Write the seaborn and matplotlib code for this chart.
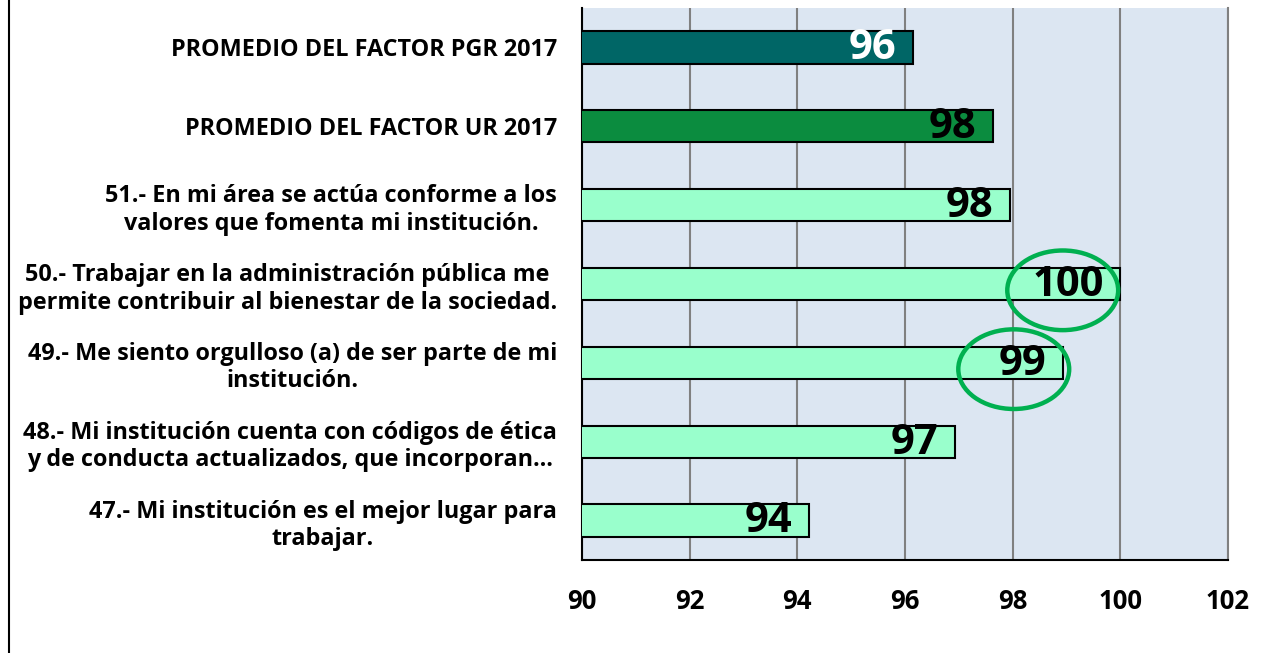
import matplotlib
matplotlib.use("Agg")
import matplotlib.pyplot as plt
import seaborn as sns
import pandas as pd
from matplotlib.patches import Ellipse
from matplotlib.lines import Line2D

# Data (top to bottom)
categories = [
    "PROMEDIO DEL FACTOR PGR 2017",
    "PROMEDIO DEL FACTOR UR 2017",
    "51.- En mi área se actúa conforme a los\nvalores que fomenta mi institución.",
    "50.- Trabajar en la administración pública me\npermite contribuir al bienestar de la sociedad.",
    "49.- Me siento orgulloso (a) de ser parte de mi\ninstitución.",
    "48.- Mi institución cuenta con códigos de ética\ny de conducta actualizados, que incorporan…",
    "47.- Mi institución es el mejor lugar para\ntrabajar.",
]
values = [96.15, 97.63, 97.95, 100.0, 98.94, 96.93, 94.21]
bar_colors = ["#006666", "#0B8C3F", "#99FFCC", "#99FFCC", "#99FFCC", "#99FFCC", "#99FFCC"]
label_colors = ["white", "black", "black", "black", "black", "black", "black"]
x_ticks = [90, 92, 94, 96, 98, 100, 102]

# highlighted items (circled in the original)
highlight_idx = [3, 4]
highlight_center_x = [98.93, 98.02]

df = pd.DataFrame({"pregunta": categories, "valor": values})

sns.set_style("white")
plt.rcParams["font.family"] = ["Open Sans", "DejaVu Sans"]
plt.rcParams["text.color"] = "black"
plt.rcParams["xtick.color"] = "black"
plt.rcParams["ytick.color"] = "black"

fig = plt.figure(figsize=(12.63, 6.53), dpi=100)
ax = fig.add_axes([582 / 1263, 1 - 560 / 653, (1228 - 582) / 1263, (560 - 8) / 653])
ax.set_facecolor("#DCE6F2")

sns.barplot(data=df, x="valor", y="pregunta", hue="pregunta", palette=bar_colors,
            saturation=1, legend=False, width=0.41, edgecolor="black", linewidth=1.5,
            ax=ax, zorder=3)

ax.set_xlim(90, 102)
ax.set_ylim(6.5, -0.5)
ax.set_xticks(x_ticks)
ax.set_xticklabels([str(t) for t in x_ticks], fontsize=18.5, fontweight="bold")
ax.set_yticks(range(len(categories)))
ax.set_yticklabels(categories, fontsize=16.8, fontweight="bold", multialignment="center",
                   linespacing=1.2)
ax.tick_params(axis="y", length=0, pad=18, labelcolor="black")
ax.tick_params(axis="x", length=0, pad=20, labelcolor="black")
ax.set_xlabel("")
ax.set_ylabel("")

ax.grid(axis="x", color="#808080", linewidth=1.5, zorder=0)
ax.set_axisbelow(True)
ax.spines["top"].set_visible(False)
ax.spines["right"].set_color("#808080")
ax.spines["right"].set_linewidth(1.5)
ax.spines["left"].set_color("black")
ax.spines["left"].set_linewidth(1.5)
ax.spines["bottom"].set_color("black")
ax.spines["bottom"].set_linewidth(1.5)

# value labels inside the bar end
for i, (v, c) in enumerate(zip(values, label_colors)):
    ax.annotate(f"{round(v):d}", xy=(v, i), xytext=(-12, -1), textcoords="offset points",
                ha="right", va="center", fontsize=30, fontweight="bold", color=c, zorder=5)

# green ellipses around highlighted values
for i, cx in zip(highlight_idx, highlight_center_x):
    ax.add_patch(Ellipse((cx, i + 0.08), width=2.06, height=1.01, fill=False,
                         edgecolor="#00B050", linewidth=3.2, zorder=6, clip_on=False))

# chart border on the left
fig.add_artist(Line2D([9 / 1263, 9 / 1263], [0, 1], color="black", linewidth=1.5))

fig.savefig("out.png", dpi=100)
